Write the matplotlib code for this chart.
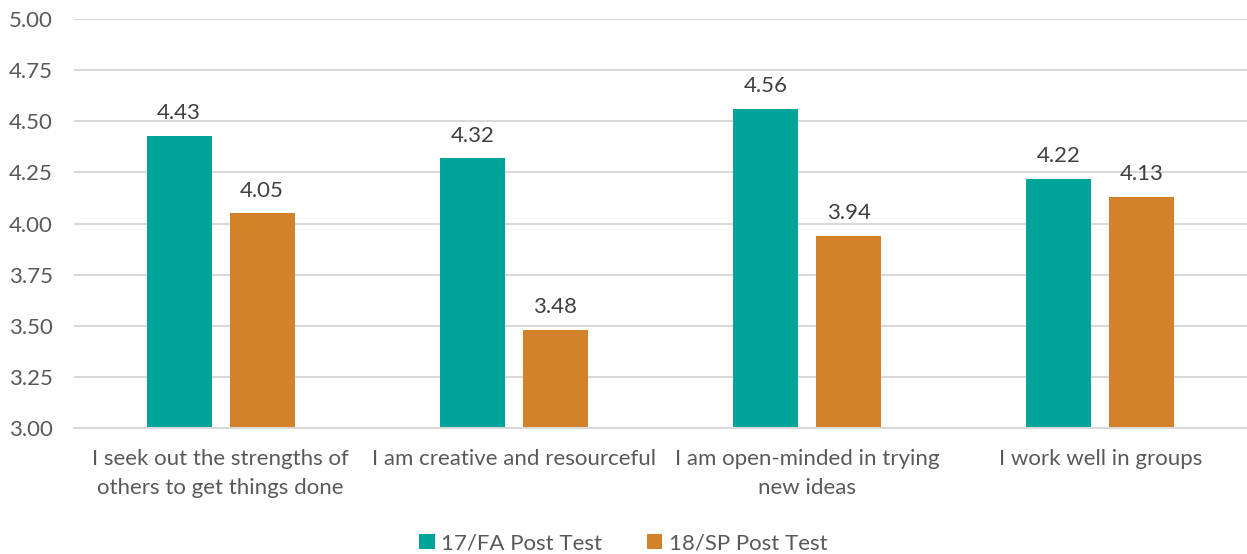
import numpy as np
import matplotlib.pyplot as plt

plt.rcParams['font.family'] = ['Lato', 'DejaVu Sans']

categories = ['I seek out the strengths of\nothers to get things done',
              'I am creative and resourceful',
              'I am open-minded in trying\nnew ideas',
              'I work well in groups']
fa_post = [4.43, 4.32, 4.56, 4.22]
sp_post = [4.05, 3.48, 3.94, 4.13]
series_names = ['17/FA Post Test', '18/SP Post Test']

teal = '#00A499'
orange = '#D4812C'
text_col = '#595959'
grid_col = '#D9D9D9'

fig = plt.figure(figsize=(12.47, 5.54), dpi=100)
ax = fig.add_axes([0.0593, 0.2274, 0.9407, 0.7383])

x = np.arange(len(categories))
w = 0.222
gap = 0.061
b1 = ax.bar(x - (w + gap) / 2, fa_post, w, color=teal, label=series_names[0])
b2 = ax.bar(x + (w + gap) / 2, sp_post, w, color=orange, label=series_names[1])

for bars, vals in ((b1, fa_post), (b2, sp_post)):
    for b, v in zip(bars, vals):
        ax.annotate('%.2f' % v, (b.get_x() + b.get_width() / 2, v),
                    xytext=(0, 9), textcoords='offset points',
                    ha='center', va='bottom', fontsize=16, color='#404040')

ax.set_ylim(3.0, 5.0)
ax.set_xlim(-0.5, len(categories) - 0.5)
ax.set_yticks(np.arange(3.0, 5.01, 0.25))
ax.set_yticklabels(['%.2f' % t for t in np.arange(3.0, 5.01, 0.25)])
ax.set_xticks(x)
ax.set_xticklabels(categories, linespacing=1.55)

ax.yaxis.grid(True, color=grid_col, linewidth=1.5)
ax.set_axisbelow(True)
for s in ['top', 'right', 'left']:
    ax.spines[s].set_visible(False)
ax.spines['bottom'].set_color(grid_col)
ax.spines['bottom'].set_linewidth(1.5)
ax.tick_params(axis='both', length=0, labelsize=16, colors=text_col)
ax.tick_params(axis='x', pad=15)
ax.tick_params(axis='y', pad=15)

fig.legend(loc='lower center', bbox_to_anchor=(0.5, -0.035), ncol=2, frameon=False,
           fontsize=16, labelcolor=text_col, handlelength=0.7, handleheight=0.7,
           handletextpad=0.3, columnspacing=2.0)

fig.savefig('out.png', dpi=100)
